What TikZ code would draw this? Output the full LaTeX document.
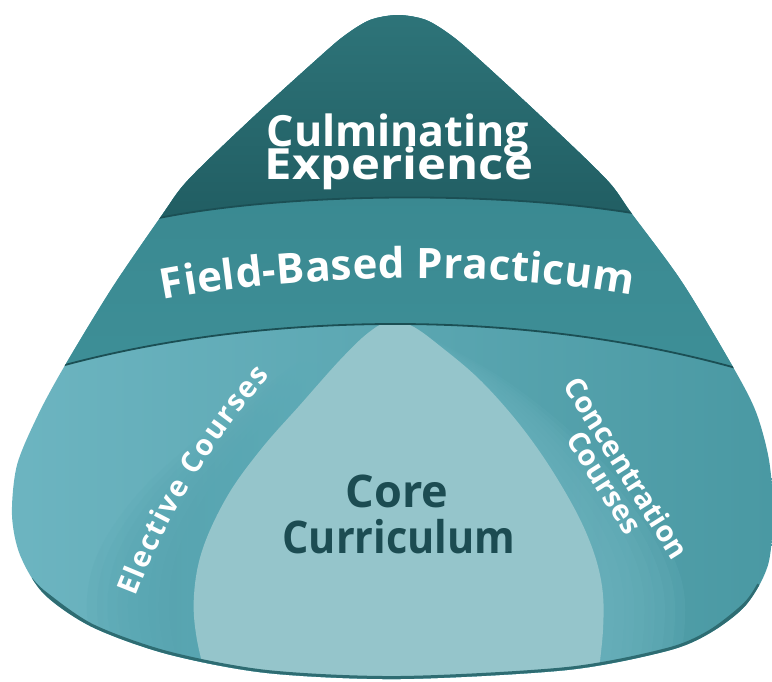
\documentclass[tikz,border=0pt]{standalone}
\usepackage{fontspec}
\setmainfont{Open Sans}
\usetikzlibrary{decorations.text}
\definecolor{topA}{HTML}{2F767B}
\definecolor{topB}{HTML}{205C61}
\definecolor{fieldA}{HTML}{36838B}
\definecolor{fieldB}{HTML}{3E8F97}
\definecolor{lowL}{HTML}{6DB5C1}
\definecolor{lowR}{HTML}{4A99A3}
\definecolor{haloL}{HTML}{55A4B0}
\definecolor{haloR}{HTML}{70B6C1}
\definecolor{corefill}{HTML}{95C5CB}
\definecolor{divline}{HTML}{1B4F54}
\definecolor{coretext}{HTML}{1C4C52}
\definecolor{edge}{HTML}{2E6C72}
\tikzset{
  whitetext/.style={text=white, inner sep=0pt},
  darktext/.style={text=coretext, inner sep=0pt},
  divider/.style={draw=divline, line width=1.8pt},
}
\begin{document}
\begin{tikzpicture}[x=1pt,y=-1pt]
\useasboundingbox (0,0) rectangle (772,681);
\begin{scope}
\clip plot[smooth cycle, tension=0.5] coordinates {
 (398,15) (426,20) (452,36) (480,60) (545,120) (607,180) (632,214) (682,282)
 (733,367) (756,412) (769,460) (773,512) (768,565) (746,605) (710,633) (667,651)
 (567,670) (400,679) (267,673) (167,654) (92,627) (44,594) (20,555) (12,515)
 (17,465) (38,415) (64,367) (112,288) (162,215) (188,180) (250,120) (316,60)
 (344,36) (370,20)};
% lower region
\shade[left color=lowL, right color=lowR] (0,0) rectangle (772,681);
% soft halo behind core
\foreach \s in {1.46,1.41,1.36,1.31,1.26,1.21,1.16,1.11,1.06}{
  \begin{scope}[shift={(388,700)}, xscale=\s, shift={(-400,-700)}]
  \shade[left color=haloL, right color=haloR, opacity=0.16]
    plot[smooth, tension=0.6] coordinates {(212,700) (197,640) (194,595) (203,548)
    (228,495) (262,448) (300,405) (340,360) (368,333) (390,321) (412,326) (440,346)
    (480,380) (520,425) (555,475) (585,530) (601,580) (603,630) (595,700)} -- cycle;
  \end{scope}
}
% core
\fill[corefill]
  plot[smooth, tension=0.6] coordinates {(212,700) (197,640) (194,595) (203,548)
  (228,495) (262,448) (300,405) (340,360) (368,333) (390,321) (412,326) (440,346)
  (480,380) (520,425) (555,475) (585,530) (601,580) (603,630) (595,700)} -- cycle;
% field band
\shade[top color=fieldA, bottom color=fieldB]
  (0,384) -- (40,372) .. controls (250,310) and (530,305) .. (760,375)
  -- (780,381) -- (780,-5) -- (0,-5) -- cycle;
% top region
\shade[top color=topA, bottom color=topB]
  (100,232) -- (140,222) .. controls (280,190) and (520,190) .. (660,218)
  -- (700,226) -- (700,-5) -- (100,-5) -- cycle;
% dividers
\draw[divider] (0,384) -- (40,372) .. controls (250,310) and (530,305) .. (760,375) -- (780,381);
\draw[divider] (100,232) -- (140,222) .. controls (280,190) and (520,190) .. (660,218) -- (700,226);
% bottom edge
\draw[edge, line width=6pt] plot[smooth, tension=0.5] coordinates {(30,580)
  (44,594) (92,627) (167,654) (267,673) (400,679) (567,670) (667,651) (710,633)
  (746,605) (760,585)};
\end{scope}
% texts
\node[whitetext, anchor=base, font=\fontsize{43}{43}\selectfont\bfseries] (cul) at (398,146) {Culminating};
\node[whitetext, anchor=base, font=\fontsize{43}{43}\selectfont\bfseries] (exp) at (399,179) {\scalebox{1.14}[1]{Experience}};
\path[decorate, decoration={text along path, text align=fit to path,
  text={|\fontsize{42}{42}\selectfont\bfseries\color{white}|Field-Based Practicum}}]
  (163,300) .. controls (300,274) and (500,270) .. (632,295);
\path[decorate, decoration={text along path, text align=fit to path,
  text={|\fontsize{29}{29}\selectfont\bfseries\color{white}|Elective Courses}}]
  (136,597) .. controls (168,514) and (212,442) .. (270,376);
\node[whitetext, rotate=-57.8, align=center, font=\fontsize{29}{26}\selectfont\bfseries] (conc) at (616,475) {Concentration\\Courses};
\node[darktext, anchor=base, font=\fontsize{45}{45}\selectfont\bfseries] (core) at (397,507) {Core};
\node[darktext, anchor=base, font=\fontsize{45}{45}\selectfont\bfseries] (curr) at (399,553) {\scalebox{0.92}[1]{Curriculum}};
\end{tikzpicture}
\end{document}
